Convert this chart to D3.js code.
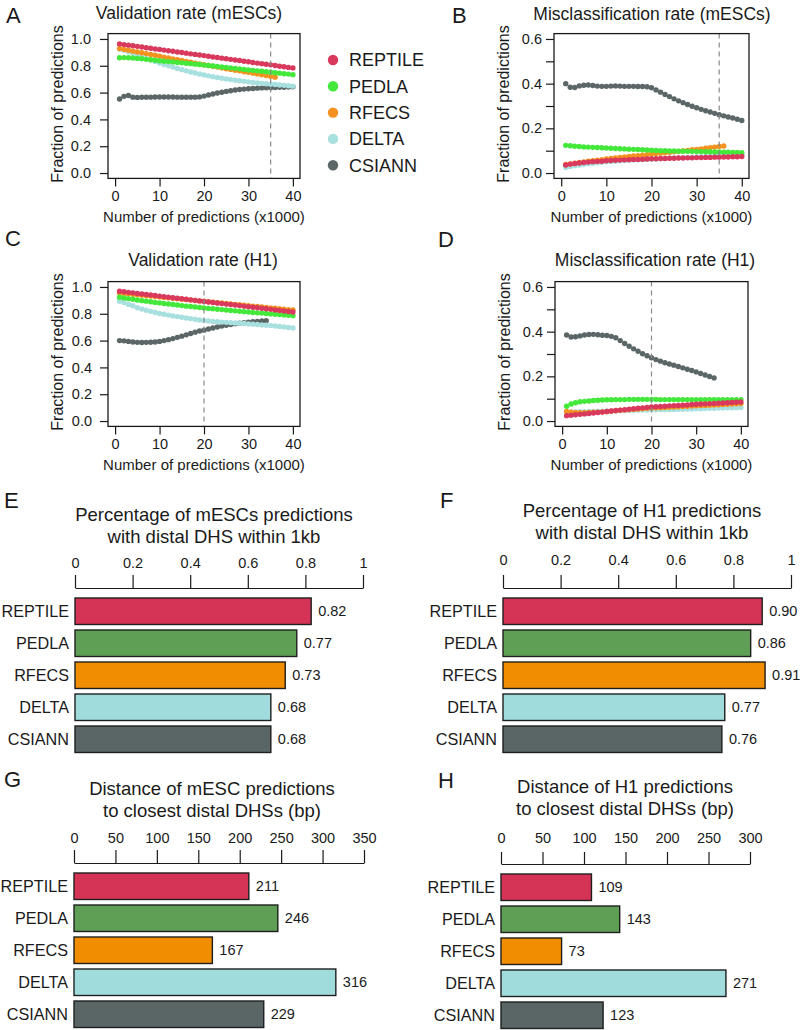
<!DOCTYPE html>
<html>
<head>
<meta charset="utf-8">
<script src="https://cdn.jsdelivr.net/npm/d3@7"></script>
<style>
  body { margin: 0; background: #fff; }
  text { font-family: "Liberation Sans", Arial, Helvetica, sans-serif; fill: #1a1a1a; }
</style>
</head>
<body>
<svg id="fig" width="800" height="1030"></svg>
<script>
// ---- data ----
const methods = ["REPTILE", "PEDLA", "RFECS", "DELTA", "CSIANN"];
const dotColors = ["#d8395c", "#43e83a", "#f49220", "#a8dfdf", "#5b6666"];
const barColors = ["#d63456", "#5f9f55", "#f18d00", "#a0dcdb", "#5a6666"];

// number of predictions (x1000)
const nPred = [1,2,3,4,5,6,7,8,9,10,11,12,13,14,15,16,17,18,19,20,21,22,23,24,25,26,27,28,29,30,31,32,33,34,35,36,37,38,39,40];
const xTicks = [0, 10, 20, 30, 40];
const fracTicks = [0, 0.2, 0.4, 0.6, 0.8, 1.0];
const misTicks = [0, 0.1, 0.2, 0.3, 0.4, 0.5, 0.6];
const misLabels = [0, 0.2, 0.4, 0.6];

// A: validation rate (mESCs)
const valMescREPTILE = [0.963,0.958,0.954,0.949,0.945,0.940,0.935,0.931,0.926,0.922,0.917,0.912,0.908,0.903,0.899,0.894,0.889,0.885,0.880,0.876,0.871,0.866,0.862,0.857,0.853,0.848,0.843,0.839,0.834,0.830,0.825,0.820,0.816,0.811,0.807,0.802,0.797,0.793,0.788,0.784];
const valMescPEDLA = [0.860,0.861,0.860,0.858,0.855,0.852,0.848,0.845,0.841,0.837,0.834,0.831,0.828,0.825,0.822,0.819,0.816,0.812,0.809,0.805,0.802,0.798,0.795,0.791,0.788,0.784,0.781,0.777,0.773,0.769,0.766,0.762,0.759,0.755,0.752,0.748,0.745,0.741,0.738,0.734];
const valMescRFECS = [0.928,0.922,0.916,0.909,0.903,0.897,0.891,0.885,0.878,0.871,0.864,0.858,0.851,0.845,0.839,0.833,0.827,0.820,0.814,0.808,0.802,0.796,0.790,0.784,0.778,0.773,0.767,0.762,0.756,0.751,0.745,0.739,0.733,0.727,0.721,0.715];
const valMescDELTA = [0.925,0.915,0.905,0.893,0.880,0.867,0.855,0.843,0.832,0.821,0.810,0.800,0.790,0.780,0.771,0.762,0.754,0.746,0.739,0.732,0.725,0.719,0.713,0.707,0.702,0.697,0.692,0.688,0.684,0.680,0.676,0.672,0.669,0.666,0.663,0.660,0.657,0.654,0.651,0.648];
const valMescCSIANN = [0.552,0.572,0.578,0.566,0.564,0.565,0.566,0.566,0.567,0.567,0.567,0.567,0.567,0.566,0.566,0.566,0.566,0.566,0.568,0.574,0.582,0.590,0.597,0.603,0.609,0.614,0.619,0.623,0.626,0.629,0.631,0.633,0.635,0.636,0.637,0.638,0.639,0.640,0.642,0.644];

// B: misclassification rate (mESCs)
const misMescREPTILE = [0.036,0.040,0.043,0.045,0.047,0.049,0.051,0.052,0.053,0.055,0.056,0.057,0.058,0.059,0.060,0.061,0.061,0.062,0.063,0.064,0.064,0.065,0.065,0.066,0.066,0.067,0.067,0.068,0.068,0.069,0.069,0.070,0.070,0.071,0.071,0.072,0.072,0.073,0.073,0.074];
const misMescPEDLA = [0.124,0.122,0.120,0.119,0.117,0.116,0.115,0.114,0.113,0.112,0.111,0.110,0.109,0.108,0.107,0.106,0.105,0.104,0.103,0.102,0.101,0.100,0.100,0.099,0.099,0.098,0.098,0.097,0.097,0.096,0.096,0.095,0.095,0.094,0.094,0.093,0.093,0.092,0.092,0.091];
const misMescRFECS = [0.038,0.041,0.044,0.047,0.050,0.053,0.055,0.058,0.060,0.063,0.065,0.067,0.070,0.072,0.074,0.076,0.078,0.080,0.082,0.085,0.087,0.089,0.091,0.093,0.095,0.097,0.099,0.101,0.104,0.106,0.108,0.111,0.113,0.116,0.119,0.121];
const misMescDELTA = [0.025,0.029,0.033,0.036,0.039,0.042,0.044,0.046,0.048,0.050,0.052,0.053,0.055,0.056,0.057,0.058,0.059,0.060,0.061,0.062,0.063,0.064,0.065,0.066,0.067,0.068,0.069,0.070,0.071,0.072,0.073,0.074,0.075,0.076,0.077,0.078,0.079,0.080,0.081,0.082];
const misMescCSIANN = [0.400,0.384,0.383,0.390,0.393,0.394,0.392,0.389,0.388,0.388,0.389,0.390,0.389,0.388,0.388,0.388,0.387,0.387,0.386,0.382,0.372,0.362,0.352,0.342,0.332,0.323,0.315,0.307,0.299,0.292,0.285,0.279,0.273,0.267,0.261,0.256,0.251,0.246,0.241,0.235];

// C: validation rate (H1)
const valH1REPTILE = [0.968,0.964,0.960,0.956,0.952,0.948,0.944,0.940,0.936,0.932,0.928,0.924,0.920,0.916,0.912,0.908,0.904,0.900,0.896,0.892,0.888,0.884,0.880,0.876,0.872,0.869,0.865,0.861,0.857,0.853,0.849,0.845,0.841,0.837,0.833,0.829,0.825,0.821,0.817,0.813];
const valH1PEDLA = [0.923,0.918,0.913,0.908,0.903,0.898,0.894,0.890,0.885,0.881,0.877,0.873,0.869,0.865,0.861,0.857,0.854,0.850,0.847,0.843,0.840,0.837,0.834,0.831,0.828,0.825,0.822,0.819,0.816,0.813,0.810,0.807,0.805,0.802,0.799,0.797,0.794,0.791,0.789,0.786];
const valH1RFECS = [0.955,0.952,0.949,0.945,0.942,0.939,0.935,0.932,0.929,0.926,0.922,0.919,0.916,0.913,0.909,0.906,0.903,0.899,0.896,0.893,0.890,0.886,0.883,0.880,0.877,0.873,0.870,0.867,0.864,0.860,0.857,0.854,0.851,0.847,0.844,0.841,0.838,0.834,0.831,0.828];
const valH1DELTA = [0.893,0.885,0.870,0.860,0.845,0.835,0.826,0.818,0.810,0.802,0.796,0.790,0.784,0.779,0.774,0.769,0.764,0.759,0.754,0.749,0.746,0.743,0.740,0.738,0.736,0.734,0.731,0.729,0.727,0.724,0.722,0.720,0.717,0.714,0.712,0.709,0.706,0.702,0.698,0.694];
const valH1CSIANN = [0.600,0.598,0.594,0.590,0.587,0.586,0.587,0.588,0.590,0.594,0.600,0.607,0.615,0.624,0.633,0.643,0.653,0.663,0.671,0.678,0.686,0.694,0.701,0.708,0.714,0.720,0.725,0.729,0.733,0.737,0.740,0.743,0.746,0.748];

// D: misclassification rate (H1)
const misH1REPTILE = [0.024,0.026,0.028,0.030,0.032,0.034,0.036,0.038,0.040,0.043,0.045,0.047,0.049,0.051,0.053,0.055,0.057,0.059,0.061,0.063,0.064,0.065,0.066,0.068,0.069,0.070,0.071,0.072,0.074,0.075,0.076,0.077,0.078,0.079,0.080,0.081,0.082,0.083,0.084,0.085];
const misH1PEDLA = [0.066,0.076,0.082,0.086,0.088,0.090,0.092,0.093,0.094,0.095,0.095,0.096,0.096,0.096,0.097,0.097,0.097,0.097,0.097,0.097,0.097,0.096,0.096,0.096,0.096,0.096,0.096,0.096,0.096,0.096,0.096,0.096,0.096,0.096,0.096,0.096,0.096,0.096,0.096,0.096];
const misH1RFECS = [0.043,0.040,0.038,0.037,0.037,0.038,0.039,0.040,0.041,0.042,0.044,0.046,0.048,0.049,0.051,0.052,0.054,0.055,0.057,0.058,0.059,0.060,0.061,0.062,0.063,0.064,0.065,0.066,0.067,0.068,0.069,0.070,0.071,0.072,0.073,0.074,0.075,0.076,0.077,0.078];
const misH1DELTA = [0.040,0.041,0.041,0.042,0.042,0.043,0.043,0.044,0.044,0.045,0.045,0.046,0.046,0.047,0.047,0.048,0.048,0.049,0.049,0.050,0.050,0.051,0.051,0.052,0.052,0.053,0.053,0.054,0.054,0.055,0.055,0.056,0.057,0.057,0.058,0.058,0.059,0.059,0.060,0.061];
const misH1CSIANN = [0.385,0.376,0.377,0.381,0.385,0.387,0.388,0.386,0.384,0.383,0.379,0.373,0.360,0.347,0.335,0.323,0.312,0.301,0.292,0.283,0.275,0.268,0.261,0.255,0.250,0.244,0.238,0.232,0.226,0.220,0.213,0.206,0.199,0.193];

// E-H: bar values
const distalFracMesc = [0.82, 0.77, 0.73, 0.68, 0.68];
const distalFracH1 = [0.90, 0.86, 0.91, 0.77, 0.76];
const distanceMesc = [211, 246, 167, 316, 229];
const distanceH1 = [109, 143, 73, 271, 123];
const fracBarTicks = [0, 0.2, 0.4, 0.6, 0.8, 1];
const distTicksMesc = [0, 50, 100, 150, 200, 250, 300, 350];
const distTicksH1 = [0, 50, 100, 150, 200, 250, 300];

// ---- drawing ----
const svg = d3.select("#fig");
svg.append("rect").attr("width", 800).attr("height", 1030).attr("fill", "#fff");

function panelLetter(letter, x, y) {
  svg.append("text").attr("x", x).attr("y", y)
    .attr("font-size", 22).text(letter);
}

function linePanel(p) {
  const g = svg.append("g");
  const x = d3.scaleLinear().domain([-1.6, 41.6]).range([p.left, p.left + p.width]);
  const y = d3.scaleLinear().domain([-0.04 * p.yMax, 1.04 * p.yMax]).range([p.top + p.height, p.top]);

  // series, last method drawn first so REPTILE ends on top
  for (let i = methods.length - 1; i >= 0; i--) {
    const vals = p.series[i];
    g.append("g").selectAll("circle")
      .data(vals)
      .enter()
      .append("circle")
      .attr("cx", (d, j) => x(nPred[j]))
      .attr("cy", d => y(d))
      .attr("r", 2.7)
      .attr("fill", dotColors[i]);
  }

  // dashed marker
  g.append("line")
    .attr("x1", x(p.vline)).attr("x2", x(p.vline))
    .attr("y1", p.top).attr("y2", p.top + p.height)
    .attr("stroke", "#8a8a8a").attr("stroke-width", 1.2)
    .attr("stroke-dasharray", "5,4");

  g.append("rect")
    .attr("x", p.left).attr("y", p.top)
    .attr("width", p.width).attr("height", p.height)
    .attr("fill", "none").attr("stroke", "#1a1a1a").attr("stroke-width", 1.3);

  const xAxis = g.append("g")
    .attr("transform", `translate(0,${p.top + p.height})`)
    .call(d3.axisBottom(x).tickValues(xTicks).tickSize(8).tickSizeOuter(0).tickPadding(4));
  xAxis.select(".domain").remove();
  xAxis.selectAll("line").attr("stroke", "#1a1a1a").attr("stroke-width", 1.2);
  xAxis.selectAll("text").attr("font-size", 14.5).attr("fill", "#1a1a1a")
    .attr("font-family", '"Liberation Sans", Arial, sans-serif');

  const yAxis = g.append("g")
    .attr("transform", `translate(${p.left},0)`)
    .call(d3.axisLeft(y).tickValues(p.yTicks).tickSize(8).tickSizeOuter(0)
      .tickPadding(p.labelPad)
      .tickFormat(d => p.yLabels.some(v => Math.abs(v - d) < 1e-9) ? d.toFixed(1) : ""));
  yAxis.select(".domain").remove();
  yAxis.selectAll("line").attr("stroke", "#1a1a1a").attr("stroke-width", 1.2);
  yAxis.selectAll("text").attr("font-size", 14.5).attr("fill", "#1a1a1a")
    .attr("font-family", '"Liberation Sans", Arial, sans-serif');

  g.append("text")
    .attr("x", p.left + p.width / 2).attr("y", p.top + p.height + 44)
    .attr("text-anchor", "middle").attr("font-size", 15)
    .text("Number of predictions (x1000)");

  g.append("text")
    .attr("transform", `translate(${p.left - 51},${p.top + p.height / 2 - 2}) rotate(-90)`)
    .attr("dy", "0.35em")
    .attr("text-anchor", "middle").attr("font-size", 16)
    .text("Fraction of predictions");

  g.append("text")
    .attr("x", p.titleX).attr("y", p.titleY)
    .attr("text-anchor", "middle").attr("font-size", 17.5)
    .text(p.title);
}

function barPanel(p) {
  const g = svg.append("g");
  const x = d3.scaleLinear().domain([0, p.max]).range([p.left, p.right]);
  const y = d3.scaleBand().domain(methods).range([p.barTop, p.barTop + 154.5])
    .paddingInner(0.172).paddingOuter(0);

  p.titleLines.forEach((t, i) => {
    g.append("text")
      .attr("x", p.titleX).attr("y", p.titleY + i * 22)
      .attr("text-anchor", "middle").attr("font-size", 18.5)
      .text(t);
  });

  const ax = g.append("g")
    .attr("transform", `translate(0,${p.axisY})`)
    .call(d3.axisTop(x).tickValues(p.ticks).tickSize(p.tickLen).tickSizeOuter(0)
      .tickPadding(p.tickPad).tickFormat(d => String(d)));
  ax.select(".domain").attr("stroke", "#1a1a1a").attr("stroke-width", 1.2);
  ax.selectAll("line").attr("stroke", "#1a1a1a").attr("stroke-width", 1.2);
  ax.selectAll("text").attr("font-size", 14.5).attr("fill", "#1a1a1a")
    .attr("font-family", '"Liberation Sans", Arial, sans-serif');

  g.selectAll("rect.bar")
    .data(p.values)
    .enter()
    .append("rect")
    .attr("class", "bar")
    .attr("x", x(0))
    .attr("y", (d, i) => y(methods[i]))
    .attr("width", d => x(d) - x(0))
    .attr("height", y.bandwidth())
    .attr("fill", (d, i) => barColors[i])
    .attr("stroke", "#1e1e1e").attr("stroke-width", 1.4);

  g.selectAll("text.val")
    .data(p.values)
    .enter()
    .append("text")
    .attr("class", "val")
    .attr("x", d => x(d) + 7)
    .attr("y", (d, i) => y(methods[i]) + y.bandwidth() / 2)
    .attr("dy", "0.36em")
    .attr("font-size", 14.5)
    .text(d => p.fmt(d));

  g.selectAll("text.cat")
    .data(methods)
    .enter()
    .append("text")
    .attr("class", "cat")
    .attr("x", p.left - 6)
    .attr("y", d => y(d) + y.bandwidth() / 2)
    .attr("dy", "0.36em")
    .attr("text-anchor", "end")
    .attr("font-size", 16.2)
    .text(d => d);
}

// line panels
linePanel({ left: 108, top: 33.6, width: 192, height: 144.8, yMax: 1, yTicks: fracTicks, yLabels: fracTicks, labelPad: 9,
  series: [valMescREPTILE, valMescPEDLA, valMescRFECS, valMescDELTA, valMescCSIANN], vline: 35,
  title: "Validation rate (mESCs)", titleX: 189, titleY: 19 });
linePanel({ left: 554, top: 33.6, width: 195, height: 144.8, yMax: 0.6, yTicks: misTicks, yLabels: misLabels, labelPad: 4,
  series: [misMescREPTILE, misMescPEDLA, misMescRFECS, misMescDELTA, misMescCSIANN], vline: 35,
  title: "Misclassification rate (mESCs)", titleX: 652, titleY: 20 });
linePanel({ left: 108, top: 281.6, width: 192, height: 144.8, yMax: 1, yTicks: fracTicks, yLabels: fracTicks, labelPad: 8,
  series: [valH1REPTILE, valH1PEDLA, valH1RFECS, valH1DELTA, valH1CSIANN], vline: 20,
  title: "Validation rate (H1)", titleX: 203, titleY: 266 });
linePanel({ left: 555, top: 281.6, width: 193, height: 144.8, yMax: 0.6, yTicks: misTicks, yLabels: misLabels, labelPad: 4,
  series: [misH1REPTILE, misH1PEDLA, misH1RFECS, misH1DELTA, misH1CSIANN], vline: 20,
  title: "Misclassification rate (H1)", titleX: 655, titleY: 266 });

// legend
const legend = svg.append("g");
methods.forEach((m, i) => {
  legend.append("circle").attr("cx", 333).attr("cy", 60 + i * 26.3).attr("r", 5.2).attr("fill", dotColors[i]);
  legend.append("text").attr("x", 349).attr("y", 60 + i * 26.3).attr("dy", "0.36em")
    .attr("font-size", 18).text(m);
});

// bar panels
barPanel({ left: 75, right: 363, max: 1, ticks: fracBarTicks, axisY: 588, tickLen: 13, tickPad: 7,
  barTop: 598, values: distalFracMesc, fmt: d3.format(".2f"),
  titleLines: ["Percentage of mESCs predictions", "with distal DHS within 1kb"], titleX: 214, titleY: 521 });
barPanel({ left: 503, right: 791, max: 1, ticks: fracBarTicks, axisY: 588, tickLen: 13, tickPad: 10,
  barTop: 598, values: distalFracH1, fmt: d3.format(".2f"),
  titleLines: ["Percentage of H1 predictions", "with distal DHS within 1kb"], titleX: 642, titleY: 517 });
barPanel({ left: 74, right: 364, max: 350, ticks: distTicksMesc, axisY: 863, tickLen: 13, tickPad: 7,
  barTop: 873, values: distanceMesc, fmt: d3.format("d"),
  titleLines: ["Distance of mESC predictions", "to closest distal DHSs (bp)"], titleX: 212, titleY: 795 });
barPanel({ left: 501, right: 750, max: 300, ticks: distTicksH1, axisY: 864, tickLen: 12, tickPad: 9,
  barTop: 874, values: distanceH1, fmt: d3.format("d"),
  titleLines: ["Distance of H1 predictions", "to closest distal DHSs (bp)"], titleX: 625, titleY: 793 });

panelLetter("A", 6, 23);
panelLetter("B", 452, 23);
panelLetter("C", 5, 246);
panelLetter("D", 438, 247);
panelLetter("E", 4, 508);
panelLetter("F", 440, 508);
panelLetter("G", 4, 787);
panelLetter("H", 438, 788);
</script>
</body>
</html>
